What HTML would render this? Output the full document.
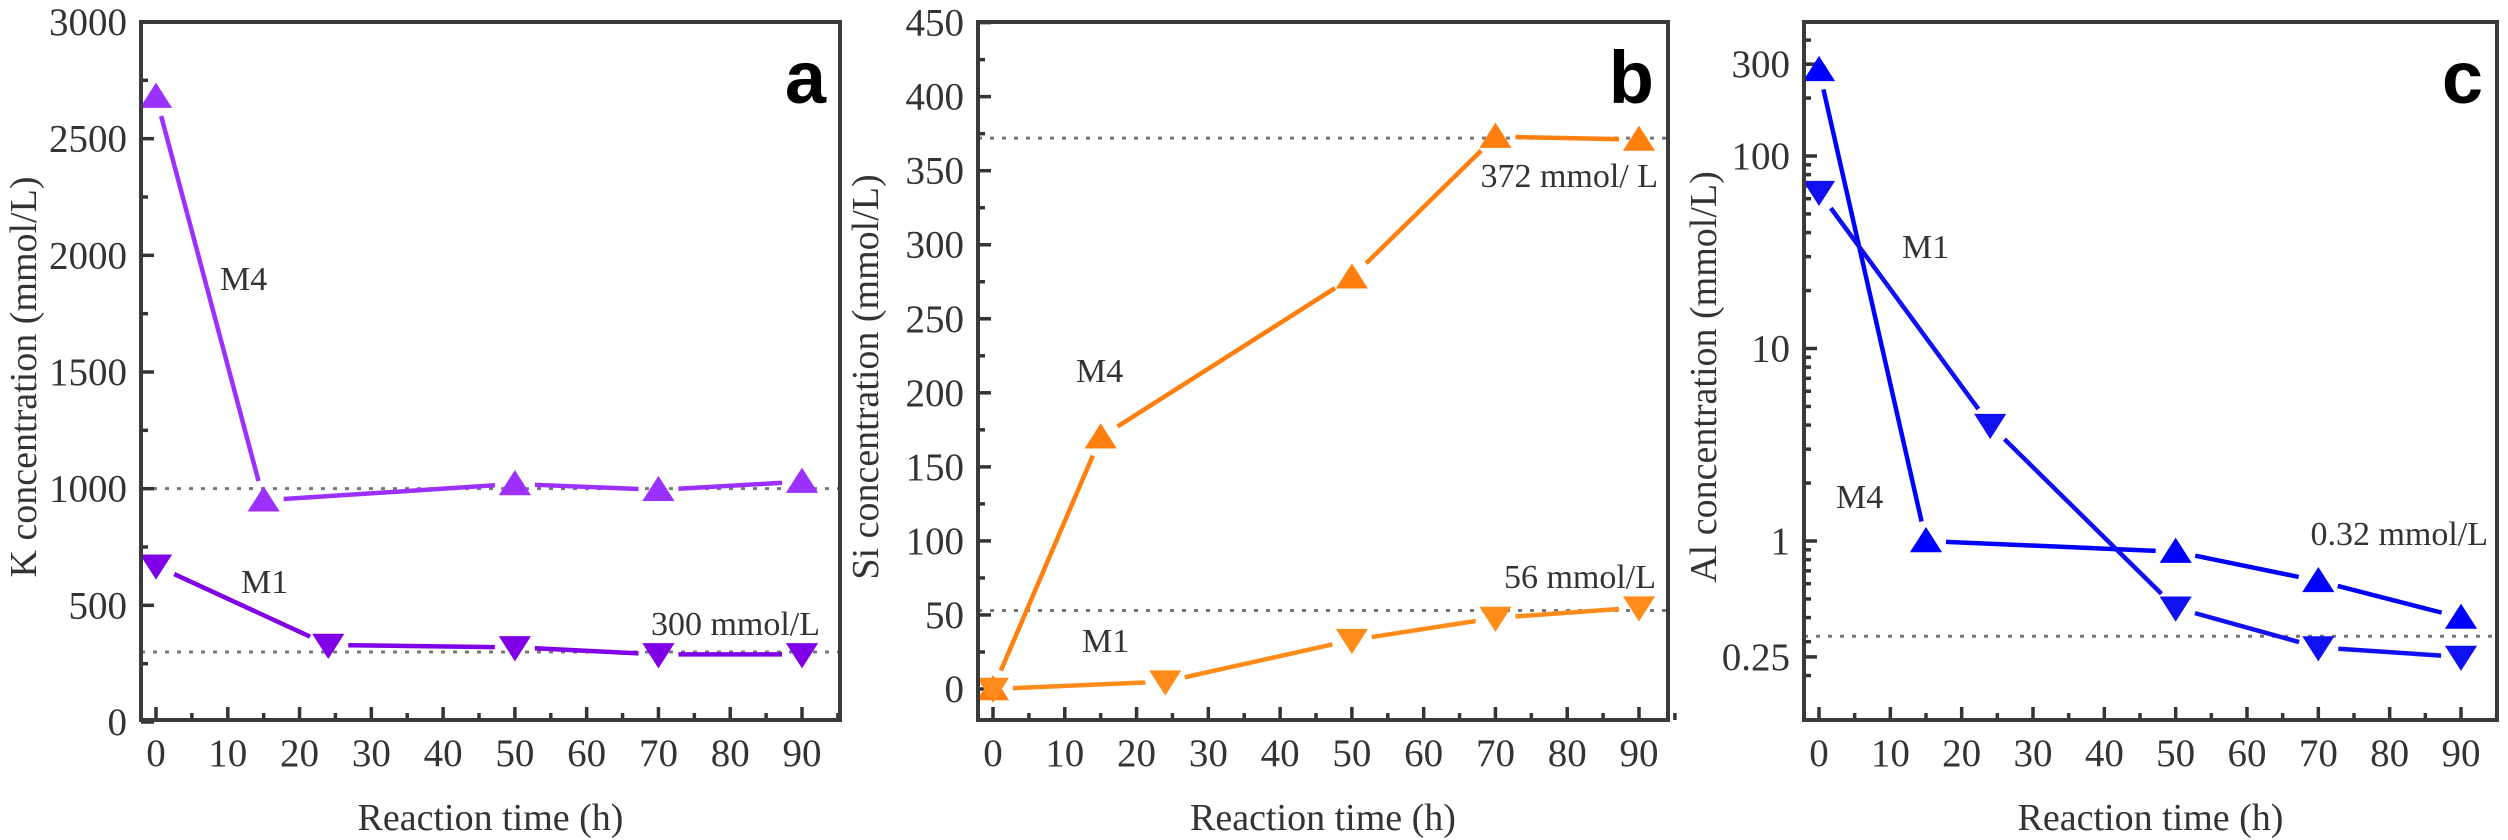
<!DOCTYPE html>
<html><head><meta charset="utf-8"><style>
html,body{margin:0;padding:0;background:#fff;}
svg{display:block;}
text{font-family:"Liberation Serif",serif;fill:#333;}
</style></head><body>
<svg id="fig" width="2508" height="840" viewBox="0 0 2508 840" xmlns="http://www.w3.org/2000/svg"></svg>
<script>
// ---- data ----
const timesA_M4 = [0, 15, 50, 70, 90];
const kM4 = [2680, 950, 1020, 995, 1030];
const timesA_M1 = [0, 24, 50, 70, 90];
const kM1 = [670, 330, 320, 290, 290];
const timesB_M4 = [0, 15, 50, 70, 90];
const siM4 = [0, 170, 278, 373, 371];
const timesB_M1 = [0, 24, 50, 70, 90];
const siM1 = [0, 5, 33, 48, 55];
const timesC_M4 = [0, 15, 50, 70, 90];
const alM4 = [280, 1.0, 0.88, 0.62, 0.40];
const timesC_M1 = [0, 24, 50, 70, 90];
const alM1 = [65, 4.0, 0.45, 0.28, 0.25];
const xTicks = [0, 10, 20, 30, 40, 50, 60, 70, 80, 90];
const yTicksA = [0, 500, 1000, 1500, 2000, 2500, 3000];
const yTicksB = [0, 50, 100, 150, 200, 250, 300, 350, 400, 450];
const yTicksC = [0.25, 1, 10, 100, 300];
const refA = [1000, 300];
const refB = [372, 53];
const refC = [0.32];

const NS = "http://www.w3.org/2000/svg";
const svg = document.getElementById('fig');
function mk(tag, attrs, parent) {
  const e = document.createElementNS(NS, tag);
  for (const k in attrs) e.setAttribute(k, attrs[k]);
  (parent || svg).appendChild(e);
  return e;
}

function panel(cfg) {
  const g = mk('g', {});
  
  
  const L = cfg.left, R = cfg.right, T = 22, B = 720;
  const sx = v => cfg.x0 + (cfg.x90 - cfg.x0) * v / 90;
  const sy = cfg.sy;
  cfg.refs.forEach(r => {
    const l = mk('line', {x1: L, x2: R, y1: sy(r), y2: sy(r), stroke: '#777', 'stroke-width': 3, 'stroke-dasharray': '4,8'}, g);
    
    
  });
  for (let v = 0; v <= 95; v += 5) {
    const major = v % 10 === 0;
    mk('line', {x1: sx(v), x2: sx(v), y1: B, y2: B - (major ? 13 : 7), stroke: '#333', 'stroke-width': 3.5}, g);
  }
  xTicks.forEach(v => {
    const t = mk('text', {x: sx(v), y: 766, 'font-size': 39, 'text-anchor': 'middle'}, g);
    t.textContent = v;
    
    
  });
  cfg.minor.forEach(v => {
    const y = sy(v);
    if (y > T && y < B) mk('line', {x1: L, x2: L + 7, y1: y, y2: y, stroke: '#333', 'stroke-width': 3.5}, g);
  });
  cfg.yTicks.forEach(v => {
    const y = sy(v);
    mk('line', {x1: L, x2: L + 13, y1: y, y2: y, stroke: '#333', 'stroke-width': 3.5}, g);
    const t = mk('text', {x: L - 14, y: y + 13, 'font-size': 39, 'text-anchor': 'end'}, g);
    t.textContent = v;
    
    
  });
  cfg.series.forEach(s => {
    const pts = s.xs.map((x, i) => [sx(x), sy(s.ys[i])]);
    for (let i = 0; i < pts.length - 1; i++) {
      const [x1, y1] = pts[i], [x2, y2] = pts[i + 1];
      const d = Math.hypot(x2 - x1, y2 - y1), gap = 20;
      if (d < 2 * gap) continue;
      const ux = (x2 - x1) / d, uy = (y2 - y1) / d;
      const l = mk('line', {x1: x1 + ux * gap, y1: y1 + uy * gap, x2: x2 - ux * gap, y2: y2 - uy * gap, stroke: s.color, 'stroke-width': 4.5}, g);
      
      
    }
    pts.forEach(([x, y]) => {
      const h = 14;
      const p = s.up
        ? `${x},${y - h} ${x + h * 1.15},${y + h * 0.8} ${x - h * 1.15},${y + h * 0.8}`
        : `${x},${y + h} ${x + h * 1.15},${y - h * 0.8} ${x - h * 1.15},${y - h * 0.8}`;
      const m = mk('polygon', {points: p, fill: s.color}, g);
      
      
    });
  });
  const f = mk('rect', {x: L, y: T, width: R - L, height: B - T, fill: 'none', stroke: '#3a3a3a', 'stroke-width': 4}, g);
  
  
  cfg.notes.forEach(n => {
    const t = mk('text', {x: n[1], y: n[2], 'font-size': n[3] || 34, 'text-anchor': n[4] || 'start', fill: '#000'}, g);
    t.textContent = n[0];
    
    
  });
  const pl = mk('text', {x: R - 14, y: 103, 'font-size': 74, 'font-weight': 'bold', 'text-anchor': 'end', style: 'font-family:"Liberation Sans",sans-serif;fill:#000'}, g);
  pl.textContent = cfg.letter;
  
  
  const xt = mk('text', {x: (L + R) / 2, y: 830, 'font-size': 38, 'text-anchor': 'middle', fill: '#000'}, g);
  xt.textContent = 'Reaction time (h)';
  
  
  const yt = mk('text', {x: 0, y: 0, 'font-size': 38, 'text-anchor': 'middle', transform: `translate(${cfg.ytx},${(T + B) / 2 + 6}) rotate(-90)`, fill: '#000'}, g);
  yt.textContent = cfg.ytitle;
  
  
}

const syA = v => 722 - v * (700 / 3000);
const minorA = []; for (let v = 250; v < 3000; v += 500) minorA.push(v);
panel({name: 'panel-a', letter: 'a', left: 141, right: 840, x0: 156, x90: 802, sy: syA,
  yTicks: yTicksA, minor: minorA, refs: refA, ytx: 36, ytitle: 'K concentration (mmol/L)',
  series: [
    {label: 'M4', xs: timesA_M4, ys: kM4, color: '#9b30ff', up: true},
    {label: 'M1', xs: timesA_M1, ys: kM1, color: '#7f00e6', up: false}],
  notes: [['M4', 220, 290], ['M1', 241, 593], ['300 mmol/L', 820, 635, 34, 'end']]});

const syB = v => 689 - v * (666.4 / 450);
const minorB = []; for (let v = 25; v < 450; v += 50) minorB.push(v);
panel({name: 'panel-b', letter: 'b', left: 978, right: 1668, x0: 993, x90: 1639, sy: syB,
  yTicks: yTicksB, minor: minorB, refs: refB, ytx: 878, ytitle: 'Si concentration (mmol/L)',
  series: [
    {label: 'M4', xs: timesB_M4, ys: siM4, color: '#ff7f0e', up: true},
    {label: 'M1', xs: timesB_M1, ys: siM1, color: '#ff8c1a', up: false}],
  notes: [['M4', 1076, 382], ['M1', 1082, 652], ['372 mmol/ L', 1658, 187, 34, 'end'], ['56 mmol/L', 1656, 588, 34, 'end']]});

const syC = v => 541 - Math.log10(v) * 192.5;
const minorC = [];
[0.1, 1, 10, 100].forEach(d => { for (let k = 2; k <= 9; k++) minorC.push(+(d * k).toPrecision(3)); });
panel({name: 'panel-c', letter: 'c', left: 1804, right: 2497, x0: 1819, x90: 2461, sy: syC,
  yTicks: yTicksC, minor: minorC, refs: refC, ytx: 1716, ytitle: 'Al concentration (mmol/L)',
  series: [
    {label: 'M4', xs: timesC_M4, ys: alM4, color: '#0000ff', up: true},
    {label: 'M1', xs: timesC_M1, ys: alM1, color: '#1010f0', up: false}],
  notes: [['M1', 1902, 258], ['M4', 1836, 508], ['0.32 mmol/L', 2488, 545, 34, 'end']]});
</script>
</body></html>
